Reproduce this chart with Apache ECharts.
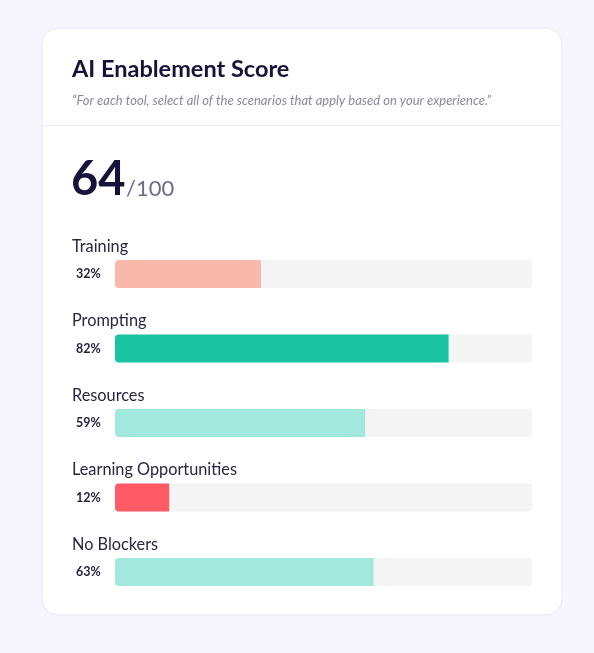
<!DOCTYPE html>
<html>
<head>
<meta charset="utf-8">
<script src="https://cdn.jsdelivr.net/npm/echarts@6/dist/echarts.min.js"></script>
<style>
html,body{margin:0;padding:0;background:#f7f5fd;}
#c{width:594px;height:653px;}
</style>
</head>
<body>
<div id="c"></div>
<script>
const categories = ['Training', 'Prompting', 'Resources', 'Learning Opportunities', 'No Blockers'];
const percentLabels = ['32%', '82%', '59%', '12%', '63%'];
const barValues = [35, 80, 60, 13, 62];
const barColors = ['#f8b9ab', '#1ac4a2', '#a3e8dc', '#ff5a66', '#a3e8dc'];
const scoreValue = '64';
const scoreMax = '/100';
const titleText = 'AI Enablement Score';
const subtitleText = '\u201cFor each tool, select all of the scenarios that apply based on your experience.\u201d';

const FONT = 'Lato, "Noto Sans", sans-serif';
const chart = echarts.init(document.getElementById('c'), null, {renderer: 'canvas'});
chart.setOption({
  backgroundColor: '#f7f5fd',
  animation: false,
  graphic: [
    {type: 'rect', z: -10, shape: {x: 42, y: 28, width: 520, height: 587, r: 16},
     style: {fill: '#ffffff', stroke: '#e9e5f6', lineWidth: 1}},
    {type: 'line', z: -9, shape: {x1: 42.5, y1: 125.5, x2: 561.5, y2: 125.5},
     style: {stroke: '#eeebf5', lineWidth: 1}},
    {type: 'text', left: 72, top: 57, style: {text: titleText, font: 'bold 23.5px ' + FONT, fill: '#16133a'}},
    {type: 'text', left: 72, top: 94, style: {text: subtitleText, font: 'italic 13px ' + FONT, fill: '#8b879b'}},
    {type: 'text', left: 71, top: 156, style: {text: scoreValue, font: 'bold 47px ' + FONT, fill: '#16133a'}},
    {type: 'text', left: 126, top: 178, style: {text: scoreMax, font: '22px ' + FONT, fill: '#6f6b86'}}
  ],
  grid: {left: 115, right: 62, top: 236.75, bottom: 43.75},
  xAxis: {type: 'value', min: 0, max: 100, show: false},
  yAxis: {
    type: 'category', data: categories, inverse: true,
    axisLine: {show: false}, axisTick: {show: false},
    axisLabel: {
      interval: 0, showMinLabel: true, showMaxLabel: true, hideOverlap: false,
      margin: 43, align: 'left',
      formatter: function (v, i) {
        return '{n|' + v + '}\n{p|' + percentLabels[i] + '}\n{e| }';
      },
      rich: {
        n: {fontFamily: FONT, fontSize: 16.3, color: '#2a2642', lineHeight: 27, height: 27},
        p: {fontFamily: FONT, fontSize: 12.5, fontWeight: 'bold', color: '#221e3c', lineHeight: 28, height: 28, padding: [0, 0, 0, 4]},
        e: {fontSize: 10, lineHeight: 27, height: 27}
      }
    }
  },
  series: [{
    type: 'bar',
    data: barValues.map((v, i) => ({value: v, itemStyle: {color: barColors[i]}})),
    barWidth: 28,
    showBackground: true,
    backgroundStyle: {color: '#f4f4f5', borderRadius: 4},
    itemStyle: {borderRadius: [4, 0, 0, 4]},
    silent: true
  }]
});
</script>
</body>
</html>
